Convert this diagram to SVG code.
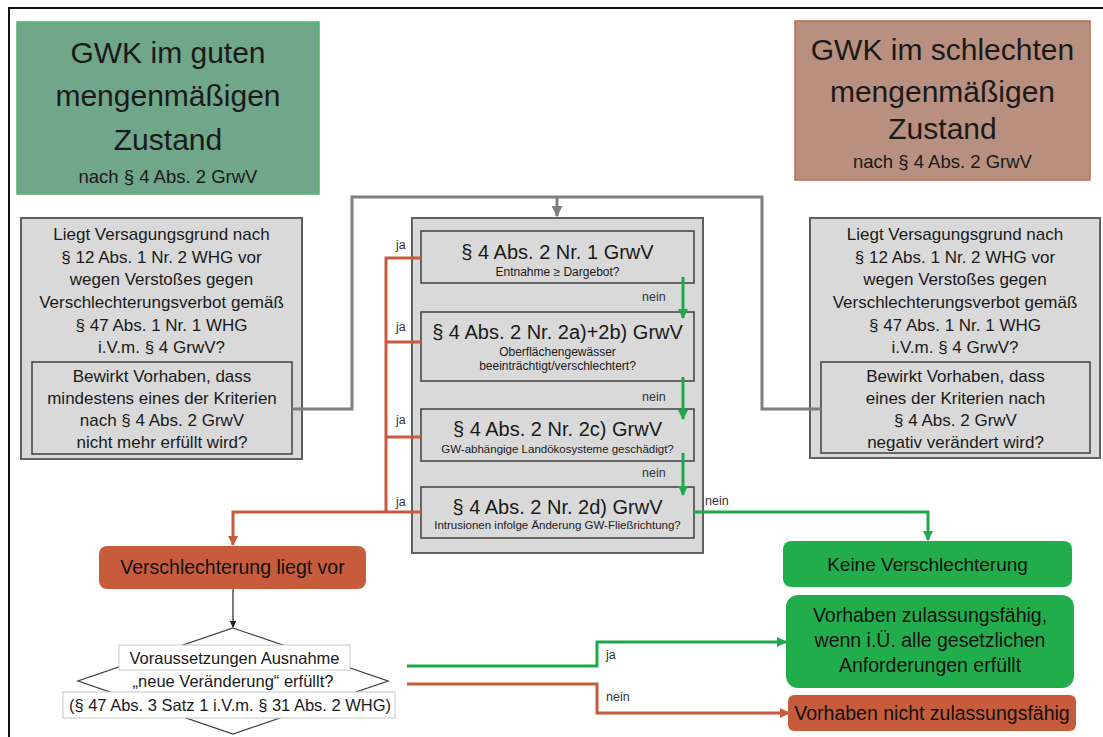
<svg xmlns="http://www.w3.org/2000/svg" width="1103" height="737" viewBox="0 0 1103 737">
<defs>
<style>
text{font-family:"Liberation Sans",Arial,sans-serif;fill:#1a1a1a;text-anchor:middle}
.big{font-size:30px}
.sub{font-size:18.5px}
.q{font-size:17px}
.t{font-size:20px}
.s{font-size:12px}
.lbl{font-size:12.5px;text-anchor:start;fill:#333}
.res{font-size:19.5px;fill:#111}
.gbox{fill:#d9d9d9;stroke:#5f5f5f;stroke-width:2}
.ibox{fill:#d9d9d9;stroke:#3f3f3f;stroke-width:1.5}
.gray{fill:none;stroke:#7f7f7f;stroke-width:3}
.grn{fill:none;stroke:#1ea84a;stroke-width:3}
.org{fill:none;stroke:#c65c3c;stroke-width:3}
.blk{fill:none;stroke:#222;stroke-width:1.2}
.wb{fill:#fff;stroke:#c8c8c8;stroke-width:1}
</style>
<marker id="ag" viewBox="0 0 10 10" refX="9" refY="5" markerWidth="10" markerHeight="10" markerUnits="userSpaceOnUse" orient="auto"><path d="M0,0 L10,5 L0,10 z" fill="#1ea84a"/></marker>
<marker id="ao" viewBox="0 0 10 10" refX="9" refY="5" markerWidth="10" markerHeight="10" markerUnits="userSpaceOnUse" orient="auto"><path d="M0,0 L10,5 L0,10 z" fill="#c65c3c"/></marker>
<marker id="ay" viewBox="0 0 10 10" refX="9" refY="5" markerWidth="11" markerHeight="11" markerUnits="userSpaceOnUse" orient="auto"><path d="M0,0 L10,5 L0,10 z" fill="#7f7f7f"/></marker>
<marker id="ab" viewBox="0 0 10 10" refX="9" refY="5" markerWidth="7" markerHeight="7" markerUnits="userSpaceOnUse" orient="auto"><path d="M0,0 L10,5 L0,10 z" fill="#222"/></marker>
</defs>
<rect x="0" y="0" width="1103" height="737" fill="#fff"/>
<path d="M9,737 V8 H1103" fill="none" stroke="#111" stroke-width="2"/>

<g id="good-state">
<rect x="17" y="22" width="302" height="172" fill="#70a68a" stroke="#4fb56f" stroke-width="1.5"/>
<text class="big" x="168" y="63">GWK im guten</text>
<text class="big" x="168" y="106">mengenmäßigen</text>
<text class="big" x="168" y="150">Zustand</text>
<text class="sub" x="168" y="183">nach § 4 Abs. 2 GrwV</text>
</g>

<g id="bad-state">
<rect x="795" y="21" width="295" height="159" fill="#b98f80" stroke="#c06a4f" stroke-width="1.5"/>
<text class="big" x="942.5" y="60">GWK im schlechten</text>
<text class="big" x="942.5" y="102">mengenmäßigen</text>
<text class="big" x="942.5" y="139">Zustand</text>
<text class="sub" x="942.5" y="168">nach § 4 Abs. 2 GrwV</text>
</g>

<g id="left-question">
<rect class="gbox" x="21" y="218" width="281" height="241"/>
<text class="q" x="161.5" y="240">Liegt Versagungsgrund nach</text>
<text class="q" x="161.5" y="263">§ 12 Abs. 1 Nr. 2 WHG vor</text>
<text class="q" x="161.5" y="285">wegen Verstoßes gegen</text>
<text class="q" x="161.5" y="308">Verschlechterungsverbot gemäß</text>
<text class="q" x="161.5" y="331">§ 47 Abs. 1 Nr. 1 WHG</text>
<text class="q" x="161.5" y="353">i.V.m. § 4 GrwV?</text>
<rect class="ibox" x="32" y="362" width="260" height="92"/>
<text class="q" x="162" y="382">Bewirkt Vorhaben, dass</text>
<text class="q" x="162" y="404">mindestens eines der Kriterien</text>
<text class="q" x="162" y="426">nach § 4 Abs. 2 GrwV</text>
<text class="q" x="162" y="448">nicht mehr erfüllt wird?</text>
</g>

<g id="right-question">
<rect class="gbox" x="810" y="218" width="290" height="240"/>
<text class="q" x="955" y="240">Liegt Versagungsgrund nach</text>
<text class="q" x="955" y="263">§ 12 Abs. 1 Nr. 2 WHG vor</text>
<text class="q" x="955" y="285">wegen Verstoßes gegen</text>
<text class="q" x="955" y="308">Verschlechterungsverbot gemäß</text>
<text class="q" x="955" y="331">§ 47 Abs. 1 Nr. 1 WHG</text>
<text class="q" x="955" y="353">i.V.m. § 4 GrwV?</text>
<rect class="ibox" x="821" y="362" width="269" height="91"/>
<text class="q" x="955.5" y="382">Bewirkt Vorhaben, dass</text>
<text class="q" x="955.5" y="404">eines der Kriterien nach</text>
<text class="q" x="955.5" y="426">§ 4 Abs. 2 GrwV</text>
<text class="q" x="955.5" y="448">negativ verändert wird?</text>
</g>

<g id="criteria">
<rect class="gbox" x="412" y="218" width="291" height="335"/>
<rect class="ibox" x="421" y="231" width="273" height="52"/>
<text class="t" x="557.5" y="259">§ 4 Abs. 2 Nr. 1 GrwV</text>
<text class="s" x="557.5" y="276">Entnahme ≥ Dargebot?</text>
<rect class="ibox" x="421" y="312" width="273" height="69"/>
<text class="t" x="557.5" y="339">§ 4 Abs. 2 Nr. 2a)+2b) GrwV</text>
<text class="s" x="557.5" y="356">Oberflächengewässer</text>
<text class="s" x="557.5" y="370">beeinträchtigt/verschlechtert?</text>
<rect class="ibox" x="421" y="409" width="273" height="52"/>
<text class="t" x="557.5" y="436">§ 4 Abs. 2 Nr. 2c) GrwV</text>
<text class="s" x="557.5" y="453" style="font-size:11.5px">GW-abhängige Landökosysteme geschädigt?</text>
<rect class="ibox" x="421" y="487" width="273" height="51"/>
<text class="t" x="557.5" y="514">§ 4 Abs. 2 Nr. 2d) GrwV</text>
<text class="s" x="557.5" y="529" style="font-size:11.5px">Intrusionen infolge Änderung GW-Fließrichtung?</text>
</g>

<g id="deterioration">
<rect x="99" y="546" width="267" height="43" rx="8" fill="#c65c3c"/>
<text class="res" x="232.5" y="574">Verschlechterung liegt vor</text>
</g>

<g id="exception">
<polygon points="233,628 388,681 233,734 78,681" fill="#fff" stroke="#404040" stroke-width="1.3"/>
<rect class="wb" x="119" y="645" width="231" height="25"/>
<rect class="wb" x="63" y="692" width="332" height="26"/>
<text class="q" style="font-size:16.5px" x="234.5" y="664">Voraussetzungen Ausnahme</text>
<text class="q" style="font-size:16.5px" x="233" y="687">„neue Veränderung“ erfüllt?</text>
<text class="q" style="font-size:16.5px" x="230" y="711">(§ 47 Abs. 3 Satz 1 i.V.m. § 31 Abs. 2 WHG)</text>
</g>

<g id="no-deterioration">
<rect x="783" y="541" width="289" height="46" rx="8" fill="#22ad4c"/>
<text class="res" x="927.5" y="571" style="font-size:19px">Keine Verschlechterung</text>
</g>

<g id="admissible">
<rect x="786" y="595" width="288" height="93" rx="12" fill="#22ad4c"/>
<text class="res" x="930" y="622">Vorhaben zulassungsfähig,</text>
<text class="res" x="930" y="647">wenn i.Ü. alle gesetzlichen</text>
<text class="res" x="930" y="672">Anforderungen erfüllt</text>
</g>

<g id="not-admissible">
<rect x="788" y="695" width="288" height="36" rx="6" fill="#c65c3c"/>
<text class="res" x="932" y="720">Vorhaben nicht zulassungsfähig</text>
</g>

<g id="connectors">
<path class="gray" d="M292,409 H352 V197 H762 V409 H821"/>
<path class="gray" d="M557,197 V216" marker-end="url(#ay)"/>
<path class="grn" d="M683,277 V318" marker-end="url(#ag)"/>
<path class="grn" d="M683,377 V419" marker-end="url(#ag)"/>
<path class="grn" d="M683,453 V495" marker-end="url(#ag)"/>
<path class="org" d="M421,258 H386 V512"/>
<path class="org" d="M386,342 H421"/>
<path class="org" d="M386,437 H421"/>
<path class="org" d="M421,512 H233 V545" marker-end="url(#ao)"/>
<path class="grn" d="M694,512 H928 V540" marker-end="url(#ag)"/>
<path class="blk" d="M233,589 V627" marker-end="url(#ab)"/>
<path class="grn" d="M407,666 H597 V642 H786" marker-end="url(#ag)"/>
<path class="org" d="M407,684 H597 V713 H789" marker-end="url(#ao)"/>
<text class="lbl" x="396" y="249">ja</text>
<text class="lbl" x="396" y="331">ja</text>
<text class="lbl" x="396" y="424">ja</text>
<text class="lbl" x="396" y="506">ja</text>
<text class="lbl" x="642" y="301">nein</text>
<text class="lbl" x="642" y="401">nein</text>
<text class="lbl" x="642" y="477">nein</text>
<text class="lbl" x="705" y="505">nein</text>
<text class="lbl" x="606" y="659">ja</text>
<text class="lbl" x="606" y="701">nein</text>
</g>
</svg>
